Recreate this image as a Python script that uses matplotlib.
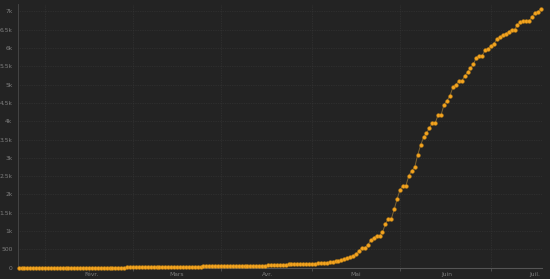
import datetime as dt
import numpy as np
import matplotlib
matplotlib.use("Agg")
from matplotlib import pyplot as plt
import matplotlib.dates as mdates

# daily cumulative values, 2020-01-07 .. 2020-07-03
start = dt.date(2020, 1, 7)
jan = [0] * 25
feb = [0, 0, 1, 1, 2, 2, 3, 3, 4, 4, 5, 5, 6, 6, 7, 8, 8, 9, 10, 10, 11, 12, 13, 14, 15, 16, 17, 18, 19]
mar = [20, 21, 22, 23, 24, 25, 27, 29, 31, 33, 35, 37, 38, 40, 41, 42, 43, 44, 45, 46, 47, 48, 49, 50, 51,
       52, 53, 54, 55, 56, 58]
apr = [62, 66, 70, 74, 78, 82, 86, 88, 90, 92, 94, 96, 98, 100, 103, 106, 110, 115, 122, 130, 140, 150,
       162, 175, 190, 210, 237, 260, 284, 330]
may = [374, 465, 546, 546, 620, 748, 820, 874, 874, 967, 1194, 1330, 1330, 1596, 1877, 2131, 2240, 2240,
       2514, 2650, 2743, 3079, 3344, 3558, 3676, 3809, 3953, 3953, 4180, 4180, 4454]
jun = [4563, 4691, 4929, 4992, 5093, 5093, 5230, 5339, 5448, 5557, 5738, 5792, 5792, 5940, 5984, 6057,
       6120, 6240, 6303, 6350, 6393, 6448, 6503, 6503, 6631, 6705, 6740, 6740, 6740, 6850]
jul = [6959, 6995, 7068]
values = jan + feb + mar + apr + may + jun + jul
dates = [start + dt.timedelta(days=i) for i in range(len(values))]

month_ticks = [dt.date(2020, m, 1) for m in range(2, 8)]
month_labels = ["Févr.", "Mars", "Avr.", "Mai", "Juin", "Juil."]
ytick_vals = list(range(0, 7001, 500))
ytick_labels = ["0", "500", "1k", "1.5k", "2k", "2.5k", "3k", "3.5k", "4k", "4.5k", "5k", "5.5k", "6k", "6.5k", "7k"]

bg = "#232323"
fig = plt.figure(figsize=(5.5, 2.79), dpi=100, facecolor=bg)
ax = fig.add_axes([18 / 550, 11.3 / 279, 523.5 / 550, 263.7 / 279], facecolor=bg)

ax.plot(dates, values, color="#7d6332", lw=0.7, zorder=2)
ax.plot(dates, values, ls="none", marker="o", ms=2.7, color="#f2a31f", mec="#c98514", mew=0.3, zorder=3,
        clip_on=False)

ax.set_xlim(mdates.date2num(start) - 0.2, mdates.date2num(dates[-1]) + 0.2)
ax.set_ylim(0, 7200)

# gridlines between month labels
mids = [dt.date(2020, 1, 16), dt.date(2020, 2, 15), dt.date(2020, 3, 16), dt.date(2020, 4, 16),
        dt.date(2020, 5, 16), dt.date(2020, 6, 16)]
ax.set_xticks(month_ticks)
ax.set_xticklabels(month_labels)
ax.set_xticks(mids, minor=True)
ax.set_yticks(ytick_vals)
ax.set_yticklabels(ytick_labels)

ax.tick_params(axis="x", which="major", length=0, pad=3, labelsize=4.3, labelcolor="#7e7e7e")
ax.tick_params(axis="x", which="minor", length=2, color="#555555", width=0.6)
ax.tick_params(axis="y", length=0, pad=4, labelsize=4.3, labelcolor="#7e7e7e")

ax.grid(True, axis="y", color="#383838", lw=0.5, ls=(0, (1, 1.5)))
ax.grid(True, axis="x", which="minor", color="#383838", lw=0.5, ls=(0, (1, 1.5)))
ax.set_axisbelow(True)

for s in ["top", "right"]:
    ax.spines[s].set_visible(False)
ax.spines["left"].set_color("#4a4a4a")
ax.spines["bottom"].set_color("#555555")
ax.spines["left"].set_linewidth(0.6)
ax.spines["bottom"].set_linewidth(0.8)

fig.savefig("out.png", dpi=100, facecolor=bg)
